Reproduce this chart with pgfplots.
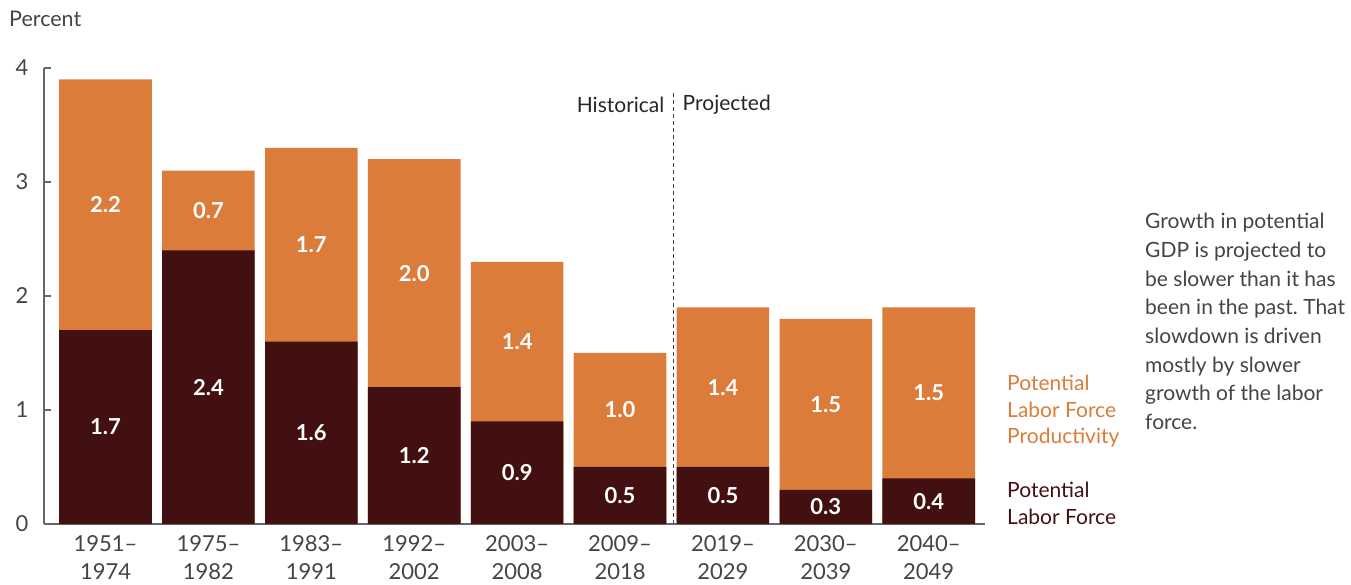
\documentclass[border=0pt]{standalone}
\usepackage{fontspec}
\setmainfont{Lato}
\usepackage{pgfplots}
\pgfplotsset{compat=1.18}
\usepackage{pgfplotstable}
\definecolor{cboorange}{HTML}{DB7C3A}
\definecolor{cbodark}{HTML}{431011}
\definecolor{txtgray}{HTML}{444444}
\definecolor{axgray}{HTML}{666666}
\frenchspacing

\pgfplotstableread{
x lab prod
0 1.7 2.2
1 2.4 0.7
2 1.6 1.7
3 1.2 2.0
4 0.9 1.4
5 0.5 1.0
6 0.5 1.4
7 0.3 1.5
8 0.4 1.5
}\gdpdata

\begin{document}
\begin{tikzpicture}
\useasboundingbox (0pt,0pt) rectangle (1351pt,585pt);
\begin{axis}[
  at={(44pt,61pt)}, anchor=south west,
  scale only axis, width=941pt, height=456pt,
  xmin=-0.598, xmax=8.547, ymin=0, ymax=4,
  axis x line*=bottom, axis y line*=left,
  axis line style={axgray, line width=1.3pt},
  xtick={0,...,8},
  xticklabels={{1951--\\1974},{1975--\\1982},{1983--\\1991},{1992--\\2002},{2003--\\2008},{2009--\\2018},{2019--\\2029},{2030--\\2039},{2040--\\2049}},
  xtick style={draw=none},
  ytick={0,1,2,3,4},
  tick align=inside,
  major tick length=7pt,
  ytick style={axgray, line width=1.3pt},
  /pgf/number format/assume math mode=true,
  xticklabel style={font=\fontsize{22}{28}\selectfont, text=txtgray, align=center, yshift=-8pt},
  yticklabel style={font=\fontsize{22}{26}\selectfont, text=txtgray, xshift=-12pt},
  clip=false,
]
\addplot[ybar, bar width=0.9, bar shift=0pt, fill=cboorange, draw=none]
  table[x=x, y expr=\thisrow{lab}+\thisrow{prod}]{\gdpdata};
\addplot[ybar, bar width=0.9, bar shift=0pt, fill=cbodark, draw=none]
  table[x=x, y=lab]{\gdpdata};
% labels for labor force
\addplot[only marks, mark=*, mark size=0pt, mark options={draw=none, fill=none},
  nodes near coords, point meta=explicit symbolic,
  every node near coord/.style={anchor=center, text=white, font=\fontsize{22}{26}\selectfont\bfseries}]
  table[x=x, y expr=\thisrow{lab}/2, meta=lab]{\gdpdata};
% labels for productivity
\addplot[only marks, mark=*, mark size=0pt, mark options={draw=none, fill=none},
  nodes near coords, point meta=explicit symbolic,
  every node near coord/.style={anchor=center, text=white, font=\fontsize{22}{26}\selectfont\bfseries}]
  table[x=x, y expr=\thisrow{lab}+\thisrow{prod}/2, meta=prod]{\gdpdata};
\draw[color=black!75, line width=1.8pt, dash pattern=on 4pt off 3pt] (axis cs:5.52,0) -- (axis cs:5.52,3.79);
\node[anchor=east, text=black!85, font=\fontsize{21}{25}\selectfont, inner sep=0pt, xshift=-9pt] at (axis cs:5.52,3.68) {Historical};
\node[anchor=west, text=black!85, font=\fontsize{21}{25}\selectfont, inner sep=0pt, xshift=9pt] at (axis cs:5.52,3.68) {Projected};
\end{axis}
\node[anchor=base west, inner sep=0pt, text=txtgray, font=\fontsize{21.5}{25}\selectfont] at (9pt,558pt) {Percent};
\node[anchor=north west, inner sep=0pt, align=left, text=cboorange, font=\fontsize{21}{26.5}\selectfont] at (1007pt,210pt) {Potential\\Labor Force\\Productivity};
\node[anchor=north west, inner sep=0pt, align=left, text=cbodark, font=\fontsize{21}{26.5}\selectfont] at (1007pt,103pt) {Potential\\Labor Force};
\node[anchor=north west, inner sep=0pt, align=left, text=txtgray, font=\fontsize{21}{28.7}\selectfont] at (1145pt,372pt) {Growth in potential\\GDP is projected to\\be slower than it has\\been in the past. That\\slowdown is driven\\mostly by slower\\growth of the labor\\force.};
\end{tikzpicture}
\end{document}
